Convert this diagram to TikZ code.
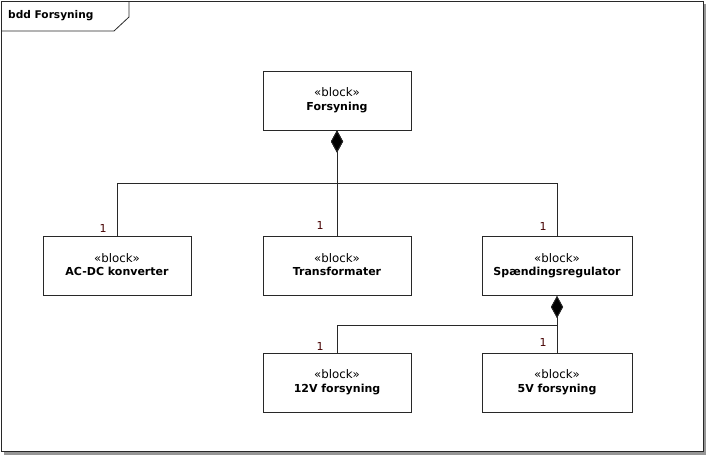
\documentclass[tikz,border=0pt]{standalone}
\usepackage{fontspec}
\setmainfont{DejaVu Sans}
\usetikzlibrary{arrows.meta,calc}
\definecolor{multc}{RGB}{70,0,0}
\definecolor{linec}{RGB}{40,40,40}
\definecolor{shadowc}{RGB}{150,150,150}
\newcommand{\blk}[1]{\rule{0pt}{9pt}{\fontsize{11.8}{13.5}\selectfont«block»}\\\textbf{#1}\rule[-3pt]{0pt}{3pt}}
\begin{document}
\begin{tikzpicture}[x=1pt,y=-1pt,
  blockbox/.style={draw=linec,line width=1pt,fill=white,minimum height=59pt,inner sep=0pt,align=center,font=\fontsize{11}{13.5}\selectfont},
  comp/.style={draw=linec,line width=0.8pt,-{Diamond[length=22pt,width=12pt,fill=black]}},
  mult/.style={text=multc,font=\fontsize{11}{13}\selectfont,inner sep=0pt}]
\useasboundingbox (0,0) rectangle (706,455);
% frame with shadow
\fill[shadowc] (4,452) rectangle (706,455);
\fill[shadowc] (703,4) rectangle (706,455);
\draw[linec,line width=1pt,fill=white] (1,1) rectangle (703,451);
\draw[linec,line width=0.8pt] (1,31) -- (114,31) -- (129,17) -- (129,1);
\node[anchor=west,inner sep=0pt,font=\fontsize{10.6}{13}\selectfont\bfseries] (title) at (8,16) {bdd Forsyning};
% blocks
\node[blockbox,minimum width=148pt] (fors) at (337,100.5) {\blk{Forsyning}};
\node[blockbox,minimum width=148pt] (acdc) at (117,266) {\blk{AC-DC konverter}};
\node[blockbox,minimum width=148pt] (trans) at (337,266) {\blk{Transformater}};
\node[blockbox,minimum width=150pt] (spaend) at (557,266) {\blk{Spændingsregulator}};
\node[blockbox,minimum width=148pt] (v12) at (337,382.5) {\blk{12V forsyning}};
\node[blockbox,minimum width=150pt] (v5) at (557,382.5) {\blk{5V forsyning}};
% junctions
\coordinate (j1) at (337,183);
\coordinate (j2) at (557,325);
% connectors
\draw[comp] (acdc.north) |- (j1) -- (fors.south);
\draw[comp] (trans.north) -- (fors.south);
\draw[comp] (spaend.north) |- (j1) -- (fors.south);
\draw[comp] (v12.north) |- (j2) -- (spaend.south);
\draw[comp] (v5.north) -- (spaend.south);
% multiplicities
\node[mult] (m1) at (103,228) {1};
\node[mult] (m2) at (320,225) {1};
\node[mult] (m3) at (543,226) {1};
\node[mult] (m4) at (320,346) {1};
\node[mult] (m5) at (543,342) {1};
\end{tikzpicture}
\end{document}
